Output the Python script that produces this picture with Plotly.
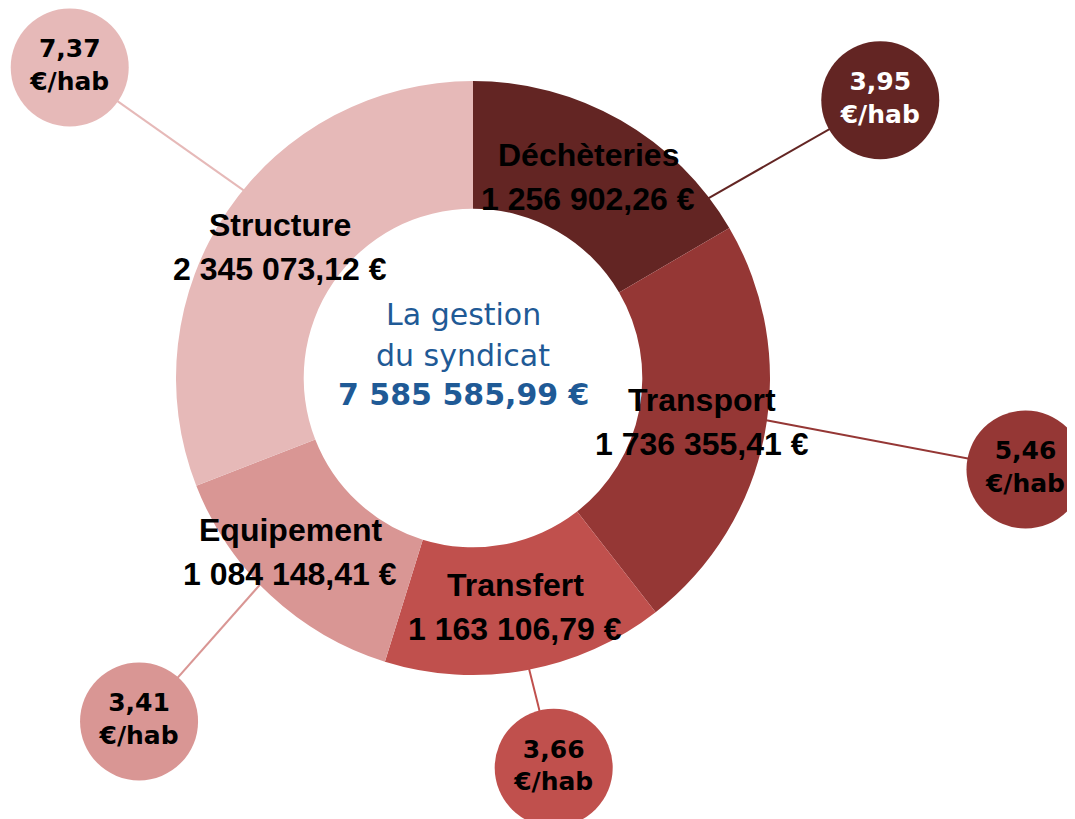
import math
import plotly.graph_objects as go

# ---- data ----
categories = ["Déchèteries", "Transport", "Transfert", "Equipement", "Structure"]
amounts = [1256902.26, 1736355.41, 1163106.79, 1084148.41, 2345073.12]
amount_labels = ["1 256 902,26 €", "1 736 355,41 €", "1 163 106,79 €", "1 084 148,41 €", "2 345 073,12 €"]
per_hab = ["3,95", "5,46", "3,66", "3,41", "7,37"]
total_label = "7 585 585,99 €"
title_lines = ["La gestion", "du syndicat"]

# ---- styles / positions ----
colors = ["#632523", "#953735", "#C0504D", "#D99694", "#E6B9B8"]
bubble_text_colors = ["white", "black", "black", "black", "black"]
W, H = 1075, 819
OFF = 8  # page body margin
CX, CY, R = 473 - OFF, 378 - OFF, 297
HOLE = 0.57
edge_angle = [52.6, 98.2, 169.1, 225.9, 309.3]      # degrees clockwise from north
bubble_angle = [55.7, 99.4, 168.3, 224.2, 307.6]
bubble_dist = [493, 560, 398, 479, 509]
label_pos = [(588, 155), (702, 400), (515, 585), (290, 530), (280, 225)]
label_gap = 44
BLUE = "#1F5A96"

fig = go.Figure()

fig.add_trace(go.Pie(
    labels=categories, values=amounts, sort=False, direction="clockwise",
    rotation=0, hole=HOLE, textinfo="none", hoverinfo="label+value",
    marker=dict(colors=colors, line=dict(width=0)),
    domain=dict(x=[(CX - R) / W, (CX + R) / W], y=[(H - CY - R) / H, (H - CY + R) / H]),
    showlegend=False,
))

def pt(angle, dist):
    a = math.radians(angle)
    return CX + dist * math.sin(a), CY - dist * math.cos(a)

for i, cat in enumerate(categories):
    x0, y0 = pt(edge_angle[i], R - 2)
    x1, y1 = pt(bubble_angle[i], bubble_dist[i])
    fig.add_trace(go.Scatter(x=[x0, x1], y=[y0, y1], mode="lines",
                             line=dict(color=colors[i], width=2),
                             hoverinfo="skip", showlegend=False))

bx, by, btxt = [], [], []
for i, cat in enumerate(categories):
    x1, y1 = pt(bubble_angle[i], bubble_dist[i])
    bx.append(x1); by.append(y1)
    btxt.append(f"{per_hab[i]}<br>€/hab")
fig.add_trace(go.Scatter(
    x=bx, y=by, mode="markers+text", text=btxt, textposition="middle center",
    marker=dict(size=118, color=colors, line=dict(width=0), opacity=1),
    textfont=dict(family="DejaVu Sans", size=25, color=bubble_text_colors, weight="bold"),
    hoverinfo="skip", showlegend=False, cliponaxis=False,
))

ann = []
for i, cat in enumerate(categories):
    lx, ly = label_pos[i]
    ann.append(dict(x=lx - OFF, y=ly - OFF, text=f"<b>{cat}</b>", showarrow=False, xref="x", yref="y",
                    font=dict(family="Liberation Sans", size=32, color="black")))
    ann.append(dict(x=lx - OFF, y=ly + label_gap - OFF, text=f"<b>{amount_labels[i]}</b>", showarrow=False,
                    xref="x", yref="y",
                    font=dict(family="Liberation Sans", size=32, color="black")))

ann.append(dict(x=463 - OFF, y=314 - OFF, text=title_lines[0], showarrow=False, xref="x", yref="y",
                font=dict(family="DejaVu Sans", size=30, color=BLUE)))
ann.append(dict(x=463 - OFF, y=355 - OFF, text=title_lines[1], showarrow=False, xref="x", yref="y",
                font=dict(family="DejaVu Sans", size=30, color=BLUE)))
ann.append(dict(x=463 - OFF, y=394 - OFF, text=f"<b>{total_label}</b>", showarrow=False, xref="x", yref="y",
                font=dict(family="DejaVu Sans", size=30, color=BLUE)))

fig.update_layout(
    width=W, height=H, margin=dict(l=0, r=0, t=0, b=0),
    paper_bgcolor="white", plot_bgcolor="rgba(0,0,0,0)",
    xaxis=dict(range=[0, W], visible=False, fixedrange=True),
    yaxis=dict(range=[H, 0], visible=False, fixedrange=True),
    annotations=ann,
)

fig.write_html("out.html")
